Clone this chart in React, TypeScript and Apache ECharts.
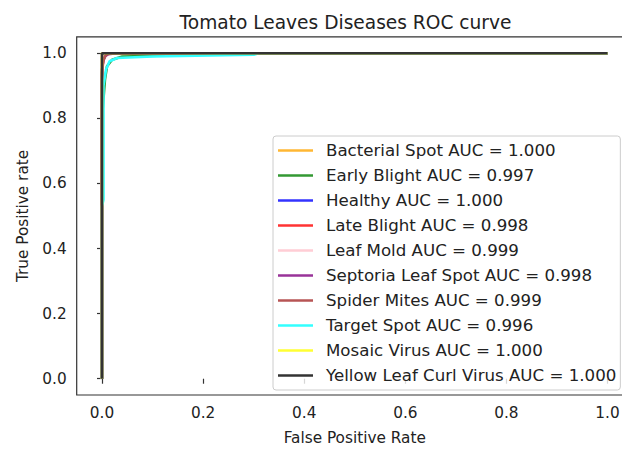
import React, { useEffect, useRef } from "react";
import * as echarts from "echarts";

const classNames = [
  "Bacterial Spot AUC = 1.000",
  "Early Blight AUC = 0.997",
  "Healthy AUC = 1.000",
  "Late Blight AUC = 0.998",
  "Leaf Mold AUC = 0.999",
  "Septoria Leaf Spot AUC = 0.998",
  "Spider Mites AUC = 0.999",
  "Target Spot AUC = 0.996",
  "Mosaic Virus AUC = 1.000",
  "Yellow Leaf Curl Virus AUC = 1.000",
];
const colors = ["#ffb733", "#339933", "#3333ff", "#ff3333", "#ffcdd5", "#993399", "#b75555", "#33ffff", "#ffff33", "#333333"];

const fprBacterial = [0, 0, 0.001, 1];
const tprBacterial = [0, 0.98, 1, 1];
const fprEarly = [0, 0, 0.003, 0.006, 0.01, 0.02, 0.04, 0.2, 0.25, 1];
const tprEarly = [0, 0.8, 0.86, 0.92, 0.96, 0.98, 0.99, 0.995, 1, 1];
const fprHealthy = [0, 0, 0.001, 0.002, 0.004, 1];
const tprHealthy = [0, 0.9, 0.95, 0.985, 1, 1];
const fprLate = [0, 0, 0.002, 0.005, 0.01, 0.02, 1];
const tprLate = [0, 0.93, 0.97, 0.99, 0.997, 1, 1];
const fprMold = [0, 0, 0.004, 0.01, 1];
const tprMold = [0, 0.96, 0.99, 1, 1];
const fprSeptoria = [0, 0, 0.002, 0.006, 0.012, 0.03, 1];
const tprSeptoria = [0, 0.94, 0.975, 0.99, 0.997, 1, 1];
const fprSpider = [0, 0, 0.003, 0.008, 0.015, 1];
const tprSpider = [0, 0.95, 0.98, 0.995, 1, 1];
const fprTarget = [0, 0, 0.003, 0.003, 0.008, 0.015, 0.03, 0.1, 0.3, 0.31, 1];
const tprTarget = [0, 0.53, 0.55, 0.9, 0.95, 0.975, 0.985, 0.99, 0.995, 1, 1];
const fprMosaic = [0, 0, 1];
const tprMosaic = [0, 1, 1];
const fprYellow = [0, 0, 1];
const tprYellow = [0, 1, 1];

const allFpr = [fprBacterial, fprEarly, fprHealthy, fprLate, fprMold, fprSeptoria, fprSpider, fprTarget, fprMosaic, fprYellow];
const allTpr = [tprBacterial, tprEarly, tprHealthy, tprLate, tprMold, tprSeptoria, tprSpider, tprTarget, tprMosaic, tprYellow];

const tickValues = [0, 0.2, 0.4, 0.6, 0.8, 1.0];
const titleText = "Tomato Leaves Diseases ROC curve";
const xLabel = "False Positive Rate";
const yLabel = "True Positive rate";

const FONT = "DejaVu Sans";
const FS = 15.3;
const LFS = 16.65;

export default function App() {
  const ref = useRef<HTMLDivElement>(null);
  useEffect(() => {
    if (!ref.current) return;
    const chart = echarts.init(ref.current, null, { renderer: "svg" });
    const series = classNames.map((name, i) => ({
      name,
      type: "line",
      data: allFpr[i].map((x, j) => [x, allTpr[i][j]]),
      showSymbol: false,
      symbol: "none",
      lineStyle: { width: 2.6, color: colors[i] },
      itemStyle: { color: colors[i] },
      z: 2,
    }));
    const axisCommon = {
      type: "value",
      min: -0.05,
      max: 1.05,
      splitLine: { show: false },
      axisLine: { show: false },
      axisTick: { show: true, customValues: tickValues, length: 5, lineStyle: { color: "#333", width: 1.2 } },
      axisLabel: {
        customValues: tickValues,
        formatter: (v: number) => v.toFixed(1),
        fontFamily: FONT,
        fontSize: FS,
        color: "#222",
        margin: 10,
      },
      nameLocation: "middle",
      nameTextStyle: { fontFamily: FONT, fontSize: FS, color: "#222" },
    };
    chart.setOption({
      animation: false,
      backgroundColor: "#fff",
      title: {
        text: titleText,
        left: 340.5,
        top: 8,
        textAlign: "center",
        textStyle: { fontFamily: FONT, fontSize: 18.6, fontWeight: "normal", color: "#222" },
      },
      grid: {
        left: 76.7,
        top: 36.9,
        width: 556.1,
        height: 360.5,
        show: true,
        borderColor: "#333",
        borderWidth: 1.2,
        backgroundColor: "transparent",
      },
      xAxis: { ...axisCommon, name: xLabel, nameGap: 35 },
      yAxis: { ...axisCommon, name: yLabel, nameGap: 46 },
      legend: {
        orient: "vertical",
        left: 273,
        top: 136,
        icon: "rect",
        itemWidth: 35,
        itemHeight: 2.5,
        itemGap: 8.0,
        padding: [6, 4, 6, 5],
        backgroundColor: "rgba(255,255,255,0.8)",
        borderColor: "#cccccc",
        borderWidth: 1,
        borderRadius: 3,
        formatter: (name: string) => "{t|" + name + "}",
        textStyle: {
          fontFamily: FONT,
          fontSize: LFS,
          color: "#222",
          lineHeight: 16,
          rich: { t: { fontFamily: FONT, fontSize: LFS, color: "#222", lineHeight: 16, padding: [0, 0, 0, 8] } },
        },
        data: classNames,
        selectedMode: false,
      },
      series,
    });
    return () => chart.dispose();
  }, []);
  return (
    <div style={{ position: "absolute", left: 0, top: 0, width: 622, height: 450, overflow: "hidden", background: "#fff" }}>
      <div ref={ref} style={{ width: 640, height: 450 }} />
    </div>
  );
}
